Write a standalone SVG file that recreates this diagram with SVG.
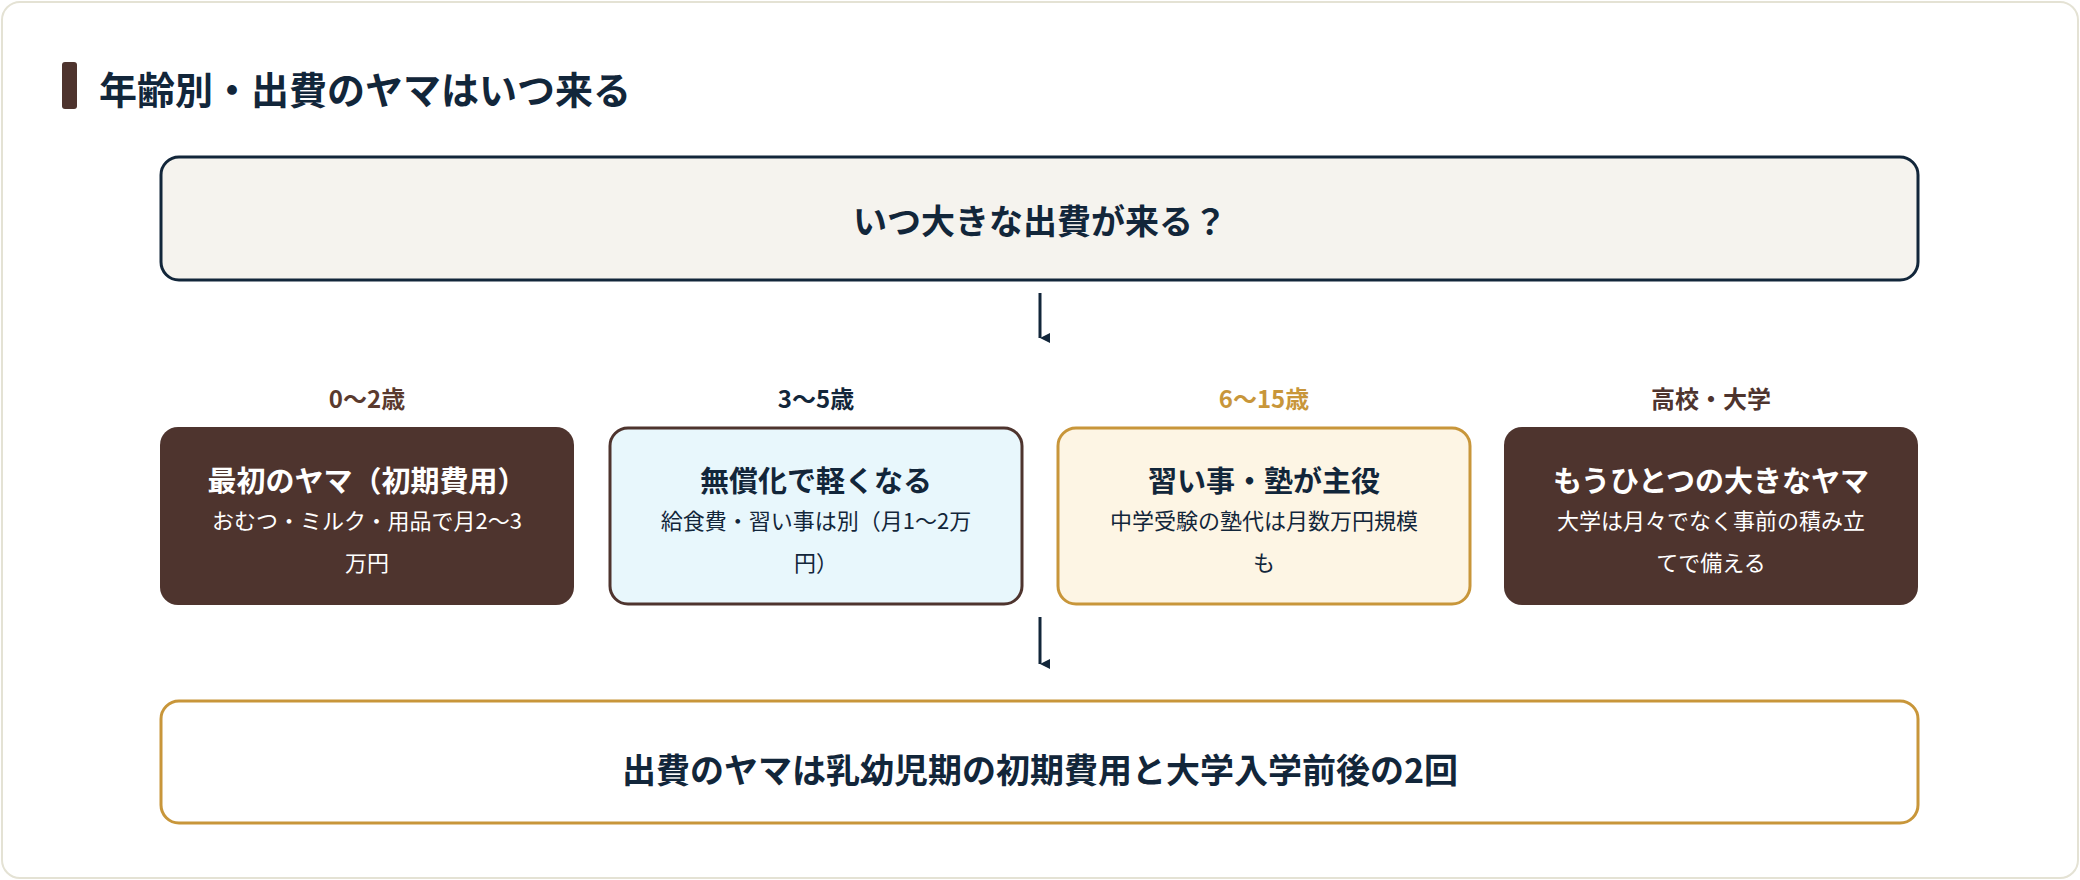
<svg xmlns="http://www.w3.org/2000/svg" width="2080" height="880" viewBox="0 0 2080 880">
<defs>
<marker id="ah" viewBox="0 0 10 10" refX="5" refY="10" markerWidth="10" markerHeight="10" markerUnits="userSpaceOnUse" orient="auto"><path d="M0,0 L10,0 L5,10 Z" fill="#12263a"/></marker>
<style>
text{font-family:"Noto Sans CJK JP","Noto Sans",sans-serif;text-anchor:middle;dominant-baseline:central}
.b{font-weight:700}
.lab{font-size:24px;font-weight:700}
.nt{font-size:29px;font-weight:700}
.ns{font-size:22px}
.w{fill:#ffffff}
.n{fill:#12263a}
</style>
</defs>
<rect x="2" y="2" width="2076" height="876" rx="18" fill="#ffffff" stroke="#e4e2d4" stroke-width="2"/>
<rect x="62" y="62" width="15" height="47" rx="3" fill="#4e342e"/>
<text x="99" y="87" class="b n" style="text-anchor:start;font-size:38px">年齢別・出費のヤマはいつ来る</text>
<g id="connectors" stroke="#12263a" stroke-width="3" fill="none">
<path d="M1040 293 V338" marker-end="url(#ah)"/>
<path d="M1040 617 V664" marker-end="url(#ah)"/>
<path d="M1040 293 V346" stroke="none"/>
</g>
<g id="q">
<rect x="161" y="157" width="1757" height="123" rx="18" fill="#f5f3ee" stroke="#12263a" stroke-width="3"/>
<text x="1040" y="219" class="b n" style="font-size:34px">いつ大きな出費が来る？</text>
</g>
<g id="n1">
<text x="367" y="397" class="lab" fill="#5a3a2e">0〜2歳</text>
<rect x="160" y="427" width="414" height="178" rx="18" fill="#4e342e"/>
<text x="367" y="479" class="nt w">最初のヤマ（初期費用）</text>
<text x="367" y="519" class="ns w">おむつ・ミルク・用品で月2〜3</text>
<text x="367" y="561" class="ns w">万円</text>
</g>
<g id="n2">
<text x="816" y="397" class="lab n">3〜5歳</text>
<rect x="610" y="428" width="412" height="176" rx="18" fill="#e8f7fc" stroke="#4e342e" stroke-width="3"/>
<text x="816" y="479" class="nt n">無償化で軽くなる</text>
<text x="816" y="519" class="ns n">給食費・習い事は別（月1〜2万</text>
<text x="816" y="561" class="ns n">円）</text>
</g>
<g id="n3">
<text x="1264" y="397" class="lab" fill="#c8963a">6〜15歳</text>
<rect x="1058" y="428" width="412" height="176" rx="18" fill="#fdf5e4" stroke="#c8963a" stroke-width="3"/>
<text x="1264" y="479" class="nt n">習い事・塾が主役</text>
<text x="1264" y="519" class="ns n">中学受験の塾代は月数万円規模</text>
<text x="1264" y="561" class="ns n">も</text>
</g>
<g id="n4">
<text x="1711" y="397" class="lab" fill="#4e342e">高校・大学</text>
<rect x="1504" y="427" width="414" height="178" rx="18" fill="#4e342e"/>
<text x="1711" y="479" class="nt w">もうひとつの大きなヤマ</text>
<text x="1711" y="519" class="ns w">大学は月々でなく事前の積み立</text>
<text x="1711" y="561" class="ns w">てで備える</text>
</g>
<g id="summary">
<rect x="161" y="701" width="1757" height="122" rx="18" fill="#ffffff" stroke="#c8963a" stroke-width="3"/>
<text x="1040" y="768" class="b n" style="font-size:34px">出費のヤマは乳幼児期の初期費用と大学入学前後の2回</text>
</g>
</svg>
